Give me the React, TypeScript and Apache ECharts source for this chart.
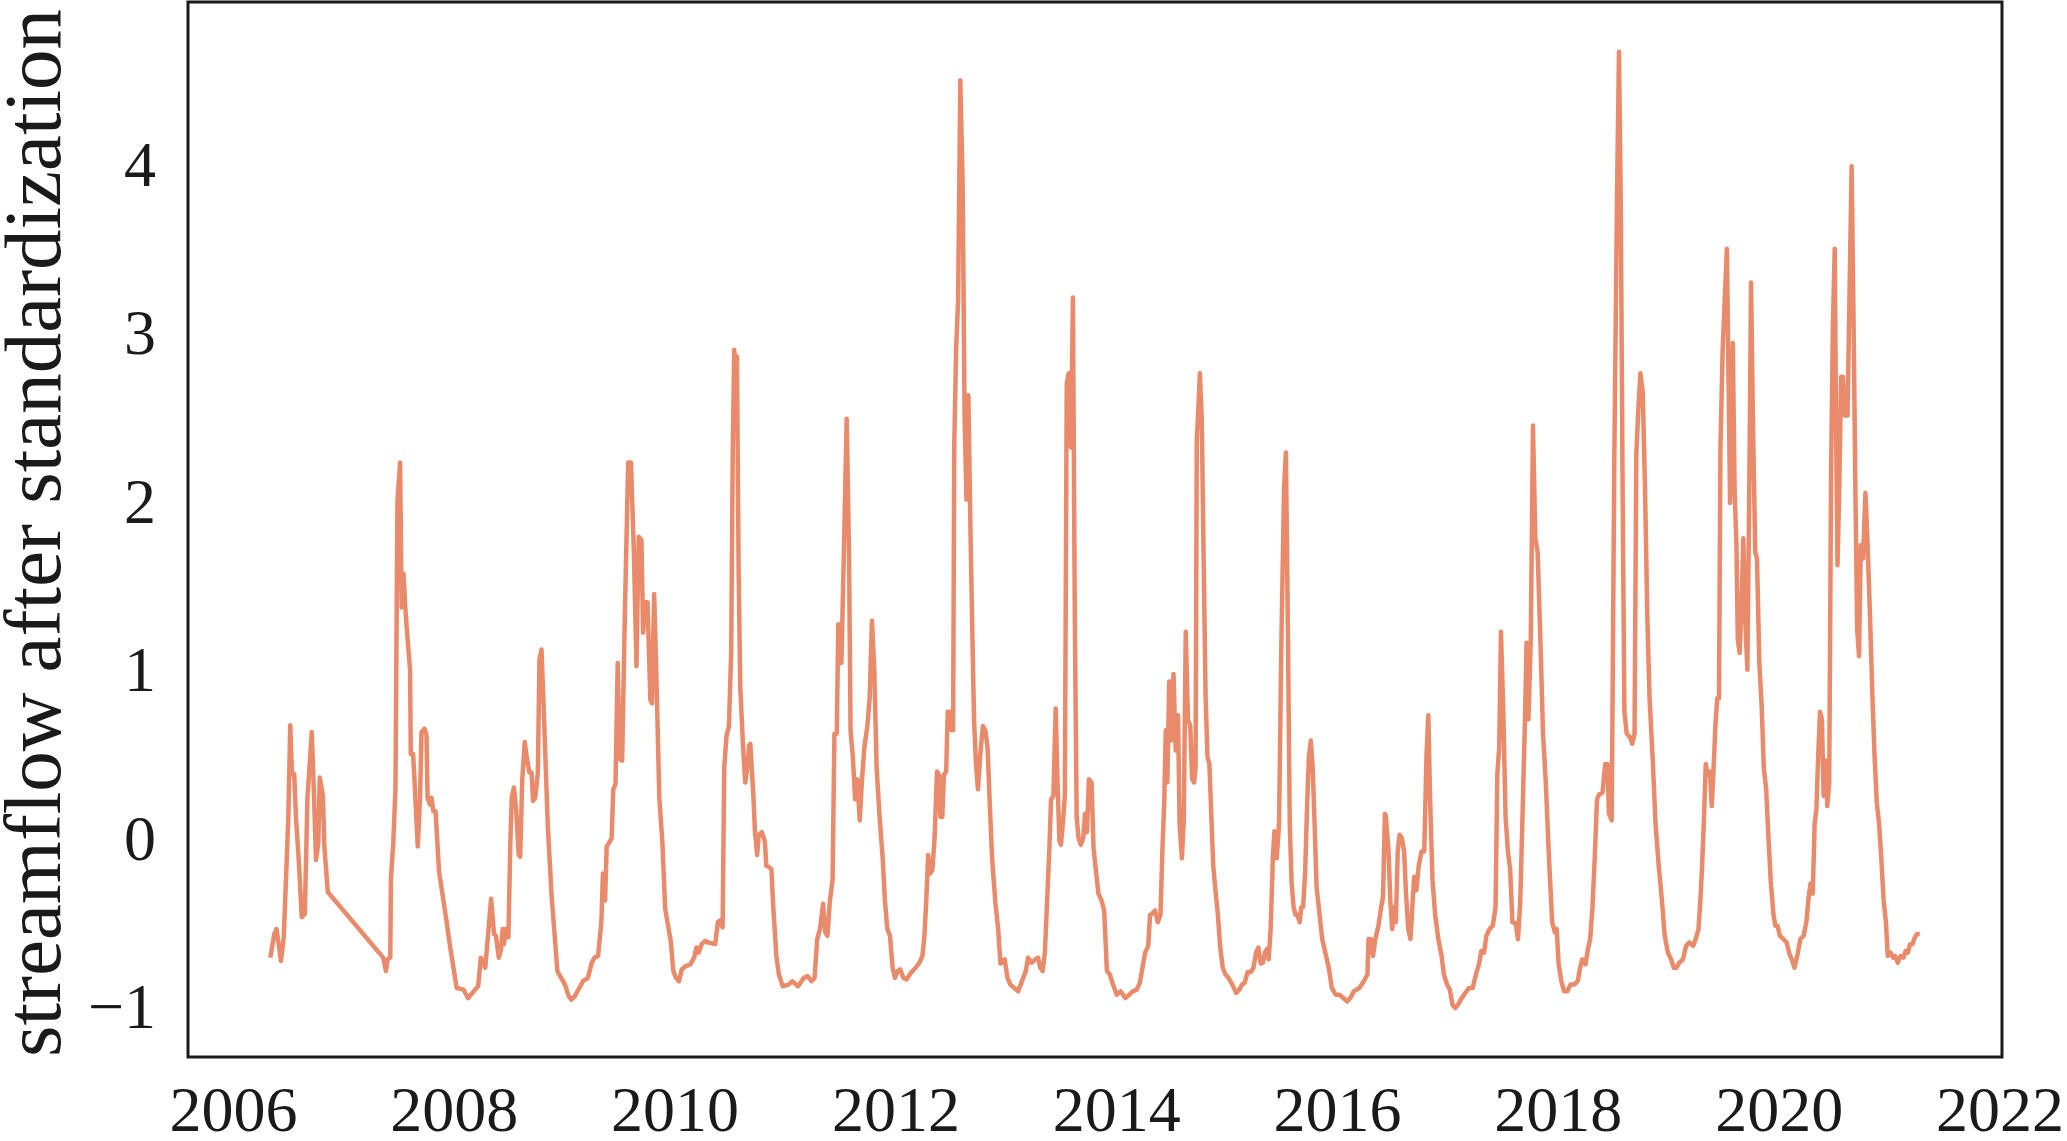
import React, { useEffect, useRef } from "react";
import * as echarts from "echarts";

// decimal year, standardized streamflow
const seg2006to2010: [number, number][] = [
  [2006.334,-0.71],[2006.369,-0.57],[2006.39,-0.54],[2006.43,-0.73],[2006.455,-0.59],[2006.473,-0.29],[2006.497,0.13],[2006.514,0.67],[2006.53,0.38],[2006.55,0.38],[2006.567,0.11],[2006.594,-0.16],[2006.618,-0.47],[2006.646,-0.45],[2006.67,0.24],[2006.709,0.63],[2006.73,0.24],[2006.747,-0.13],[2006.768,-0.03],[2006.781,0.36],[2006.81,0.25],[2006.823,-0.05],[2006.854,-0.32],
  [2007.356,-0.71],[2007.381,-0.79],[2007.395,-0.72],[2007.42,-0.71],[2007.426,-0.24],[2007.447,-0.03],[2007.467,0.29],[2007.485,2.0],[2007.509,2.23],[2007.523,1.37],[2007.54,1.57],[2007.556,1.37],[2007.57,1.24],[2007.599,1.0],[2007.606,0.5],[2007.627,0.5],[2007.641,0.32],[2007.669,-0.05],[2007.69,0.24],[2007.703,0.63],[2007.73,0.65],[2007.748,0.61],[2007.758,0.24],[2007.78,0.2],[2007.793,0.24],[2007.81,0.16],[2007.83,0.16],[2007.862,-0.2],[2007.89,-0.32],[2007.929,-0.49],[2007.963,-0.65],[2007.997,-0.79],
  [2008.022,-0.89],[2008.084,-0.9],[2008.1,-0.92],[2008.126,-0.95],[2008.15,-0.93],[2008.189,-0.9],[2008.216,-0.88],[2008.24,-0.71],[2008.265,-0.74],[2008.28,-0.77],[2008.309,-0.55],[2008.333,-0.36],[2008.36,-0.57],[2008.377,-0.58],[2008.403,-0.71],[2008.424,-0.66],[2008.438,-0.54],[2008.45,-0.63],[2008.466,-0.54],[2008.49,-0.59],[2008.507,-0.04],[2008.52,0.24],[2008.54,0.3],[2008.56,0.17],[2008.583,-0.1],[2008.597,-0.11],[2008.615,0.34],[2008.638,0.57],[2008.658,0.47],[2008.68,0.39],[2008.7,0.39],[2008.713,0.22],[2008.733,0.24],[2008.757,0.39],[2008.771,1.06],[2008.79,1.12],[2008.81,0.76],[2008.847,0.07],[2008.881,-0.34],[2008.934,-0.79],[2008.968,-0.83],
  [2009.002,-0.87],[2009.037,-0.94],[2009.06,-0.96],[2009.09,-0.94],[2009.141,-0.88],[2009.165,-0.85],[2009.21,-0.83],[2009.245,-0.74],[2009.27,-0.71],[2009.302,-0.7],[2009.332,-0.5],[2009.346,-0.21],[2009.366,-0.37],[2009.38,-0.05],[2009.4,-0.03],[2009.425,0.0],[2009.44,0.29],[2009.46,0.32],[2009.48,1.04],[2009.498,0.47],[2009.52,0.46],[2009.546,1.37],[2009.575,2.23],[2009.6,2.23],[2009.626,1.71],[2009.65,1.02],[2009.67,1.79],[2009.695,1.77],[2009.71,1.22],[2009.73,1.4],[2009.75,1.4],[2009.776,0.82],[2009.79,0.8],[2009.81,1.45],[2009.83,0.97],[2009.857,0.24],[2009.885,-0.03],[2009.91,-0.42],[2009.936,-0.52],[2009.96,-0.61],[2009.984,-0.79],
  [2010.008,-0.83],[2010.035,-0.85],[2010.06,-0.78],[2010.096,-0.76],[2010.138,-0.75],[2010.172,-0.71],[2010.193,-0.65],[2010.213,-0.68],[2010.24,-0.63],[2010.275,-0.61],[2010.3,-0.62],[2010.363,-0.63],[2010.387,-0.5],[2010.404,-0.49],[2010.43,-0.53],[2010.445,0.42],[2010.466,0.61],[2010.487,0.66],[2010.508,1.11],[2010.522,2.3],[2010.535,2.9],[2010.548,2.78],[2010.56,2.86],[2010.575,1.6],[2010.59,0.9],[2010.615,0.55],[2010.635,0.33],[2010.655,0.42],[2010.67,0.55],
];

const seg2010to2016: [number, number][] = [
  [2010.681,0.56],[2010.709,0.25],[2010.723,0.04],[2010.743,-0.1],[2010.757,0.02],[2010.785,0.035],[2010.813,-0.02],[2010.826,-0.165],[2010.847,-0.17],[2010.872,-0.185],[2010.889,-0.41],[2010.917,-0.7],[2010.94,-0.81],[2010.975,-0.88],
  [2011.027,-0.87],[2011.062,-0.85],[2011.114,-0.88],[2011.166,-0.83],[2011.2,-0.82],[2011.235,-0.85],[2011.263,-0.83],[2011.287,-0.6],[2011.312,-0.54],[2011.34,-0.39],[2011.36,-0.56],[2011.38,-0.58],[2011.402,-0.37],[2011.426,-0.25],[2011.443,0.62],[2011.464,0.62],[2011.478,1.27],[2011.506,1.04],[2011.526,1.62],[2011.554,2.49],[2011.575,1.7],[2011.589,0.64],[2011.61,0.48],[2011.63,0.23],[2011.651,0.35],[2011.672,0.105],[2011.693,0.35],[2011.714,0.54],[2011.741,0.665],[2011.762,0.83],[2011.783,1.29],[2011.804,1.0],[2011.825,0.42],[2011.852,0.125],[2011.88,-0.12],[2011.9,-0.37],[2011.922,-0.54],[2011.946,-0.58],[2011.97,-0.77],[2011.991,-0.83],
  [2012.015,-0.79],[2012.04,-0.78],[2012.067,-0.83],[2012.095,-0.84],[2012.136,-0.8],[2012.178,-0.77],[2012.213,-0.74],[2012.24,-0.7],[2012.258,-0.58],[2012.275,-0.37],[2012.292,-0.1],[2012.31,-0.21],[2012.33,-0.19],[2012.35,0.0],[2012.372,0.395],[2012.39,0.375],[2012.403,0.125],[2012.42,0.125],[2012.434,0.375],[2012.455,0.395],[2012.469,0.75],[2012.49,0.75],[2012.504,0.64],[2012.518,0.64],[2012.528,2.32],[2012.545,2.9],[2012.563,3.19],[2012.583,4.5],[2012.604,3.9],[2012.622,2.49],[2012.639,2.01],[2012.656,2.63],[2012.674,1.87],[2012.691,1.25],[2012.708,0.69],[2012.725,0.44],[2012.743,0.29],[2012.767,0.52],[2012.788,0.665],[2012.809,0.64],[2012.83,0.54],[2012.847,0.25],[2012.871,-0.12],[2012.899,-0.37],[2012.926,-0.54],[2012.947,-0.745],[2012.985,-0.72],
  [2013.01,-0.83],[2013.037,-0.87],[2013.072,-0.89],[2013.107,-0.91],[2013.141,-0.85],[2013.176,-0.79],[2013.197,-0.71],[2013.228,-0.74],[2013.263,-0.72],[2013.287,-0.71],[2013.308,-0.77],[2013.328,-0.79],[2013.349,-0.68],[2013.367,-0.41],[2013.391,-0.04],[2013.405,0.23],[2013.426,0.25],[2013.447,0.77],[2013.464,0.33],[2013.481,-0.02],[2013.495,-0.04],[2013.516,0.125],[2013.53,0.25],[2013.547,2.7],[2013.564,2.76],[2013.585,2.32],[2013.603,3.21],[2013.62,1.33],[2013.637,0.125],[2013.654,0.0],[2013.675,-0.04],[2013.696,0.0],[2013.713,0.145],[2013.73,0.035],[2013.748,0.35],[2013.772,0.33],[2013.79,-0.06],[2013.81,-0.185],[2013.834,-0.33],[2013.862,-0.37],[2013.886,-0.43],[2013.911,-0.79],[2013.938,-0.81],[2013.966,-0.87],
  [2014.0,-0.93],[2014.035,-0.91],[2014.077,-0.95],[2014.112,-0.93],[2014.146,-0.91],[2014.181,-0.9],[2014.209,-0.86],[2014.233,-0.77],[2014.257,-0.68],[2014.285,-0.64],[2014.302,-0.455],[2014.32,-0.45],[2014.347,-0.43],[2014.372,-0.5],[2014.396,-0.455],[2014.413,-0.08],[2014.43,0.21],[2014.444,0.64],[2014.458,0.33],[2014.475,0.93],[2014.493,0.58],[2014.514,0.975],[2014.534,0.52],[2014.555,0.73],[2014.569,0.085],[2014.59,-0.12],[2014.607,0.105],[2014.625,1.225],[2014.645,0.705],[2014.666,0.665],[2014.683,0.35],[2014.7,0.33],[2014.714,0.415],[2014.725,2.365],[2014.735,2.49],[2014.753,2.76],[2014.77,2.49],[2014.787,1.66],[2014.805,0.83],[2014.822,0.48],[2014.839,0.44],[2014.857,0.125],[2014.874,-0.165],[2014.891,-0.29],[2014.916,-0.455],[2014.936,-0.64],[2014.96,-0.77],[2014.985,-0.81],
  [2015.012,-0.83],[2015.047,-0.87],[2015.082,-0.92],[2015.11,-0.9],[2015.134,-0.87],[2015.158,-0.86],[2015.186,-0.795],[2015.214,-0.795],[2015.238,-0.77],[2015.262,-0.68],[2015.283,-0.65],[2015.304,-0.745],[2015.324,-0.74],[2015.342,-0.68],[2015.359,-0.66],[2015.376,-0.72],[2015.394,-0.54],[2015.415,-0.1],[2015.428,0.04],[2015.449,-0.12],[2015.47,0.085],[2015.49,1.12],[2015.515,2.07],[2015.532,2.29],[2015.55,1.245],[2015.567,0.085],[2015.584,-0.27],[2015.602,-0.41],[2015.619,-0.455],[2015.636,-0.455],[2015.657,-0.5],[2015.671,-0.41],[2015.688,-0.41],[2015.706,-0.21],[2015.723,0.17],[2015.74,0.48],[2015.758,0.58],[2015.775,0.415],[2015.792,0.085],[2015.81,-0.29],[2015.837,-0.455],[2015.861,-0.6],[2015.896,-0.7],[2015.92,-0.77],[2015.948,-0.89],[2015.983,-0.93],
  [2016.017,-0.93],[2016.052,-0.95],[2016.087,-0.97],
];

const seg2016to2021: [number, number][] = [
  [2016.114,-0.95],[2016.147,-0.91],[2016.197,-0.89],[2016.238,-0.85],[2016.271,-0.81],[2016.28,-0.6],[2016.3,-0.6],[2016.321,-0.7],[2016.342,-0.6],[2016.37,-0.52],[2016.395,-0.41],[2016.412,-0.35],[2016.429,0.145],[2016.437,0.13],[2016.462,-0.08],[2016.478,-0.37],[2016.495,-0.54],[2016.511,-0.41],[2016.528,-0.5],[2016.545,-0.08],[2016.561,0.02],[2016.582,0.0],[2016.603,-0.08],[2016.62,-0.33],[2016.64,-0.54],[2016.66,-0.6],[2016.677,-0.41],[2016.694,-0.23],[2016.714,-0.31],[2016.735,-0.165],[2016.76,-0.08],[2016.785,-0.08],[2016.806,0.5],[2016.822,0.73],[2016.839,0.21],[2016.86,-0.25],[2016.884,-0.455],[2016.913,-0.6],[2016.942,-0.7],[2016.963,-0.81],[2016.992,-0.87],
  [2017.017,-0.9],[2017.041,-0.99],[2017.066,-1.01],[2017.091,-0.99],[2017.124,-0.95],[2017.157,-0.92],[2017.19,-0.89],[2017.224,-0.89],[2017.253,-0.81],[2017.282,-0.745],[2017.302,-0.67],[2017.327,-0.68],[2017.348,-0.58],[2017.377,-0.54],[2017.406,-0.52],[2017.431,-0.41],[2017.447,0.375],[2017.464,0.54],[2017.48,1.225],[2017.501,0.75],[2017.522,0.125],[2017.543,-0.08],[2017.563,-0.185],[2017.584,-0.5],[2017.613,-0.505],[2017.634,-0.6],[2017.654,-0.39],[2017.675,0.125],[2017.696,0.665],[2017.712,1.16],[2017.729,0.705],[2017.75,1.18],[2017.77,2.45],[2017.791,1.78],[2017.812,1.7],[2017.836,1.2],[2017.861,0.62],[2017.886,0.33],[2017.915,-0.12],[2017.944,-0.5],[2017.969,-0.56],[2017.985,-0.54],
  [2018.002,-0.745],[2018.027,-0.85],[2018.052,-0.91],[2018.081,-0.91],[2018.11,-0.87],[2018.143,-0.87],[2018.176,-0.85],[2018.197,-0.77],[2018.217,-0.72],[2018.246,-0.75],[2018.267,-0.66],[2018.288,-0.6],[2018.309,-0.41],[2018.329,-0.12],[2018.35,0.23],[2018.371,0.26],[2018.4,0.27],[2018.424,0.44],[2018.445,0.44],[2018.458,0.145],[2018.483,0.105],[2018.507,2.28],[2018.532,3.86],[2018.549,4.67],[2018.565,3.77],[2018.582,2.07],[2018.598,0.75],[2018.619,0.62],[2018.648,0.6],[2018.669,0.56],[2018.69,0.62],[2018.706,2.28],[2018.723,2.53],[2018.743,2.76],[2018.764,2.65],[2018.785,2.07],[2018.805,1.33],[2018.826,0.83],[2018.855,0.46],[2018.88,0.085],[2018.909,-0.165],[2018.938,-0.37],[2018.963,-0.58],[2018.992,-0.68],
  [2019.021,-0.72],[2019.046,-0.77],[2019.07,-0.77],[2019.095,-0.74],[2019.128,-0.72],[2019.157,-0.64],[2019.186,-0.62],[2019.22,-0.64],[2019.244,-0.6],[2019.269,-0.54],[2019.286,-0.37],[2019.302,-0.165],[2019.319,0.125],[2019.335,0.44],[2019.352,0.375],[2019.373,0.395],[2019.389,0.19],[2019.406,0.415],[2019.422,0.665],[2019.439,0.83],[2019.455,0.83],[2019.468,2.32],[2019.488,2.9],[2019.509,3.23],[2019.526,3.5],[2019.542,2.7],[2019.555,1.99],[2019.567,2.53],[2019.58,2.94],[2019.596,2.07],[2019.613,1.74],[2019.625,1.18],[2019.642,1.1],[2019.658,1.37],[2019.675,1.78],[2019.691,1.33],[2019.712,1.0],[2019.729,2.07],[2019.745,3.3],[2019.762,2.49],[2019.783,1.7],[2019.799,1.66],[2019.82,1.04],[2019.841,0.79],[2019.861,0.415],[2019.882,0.29],[2019.903,0.0],[2019.923,-0.25],[2019.948,-0.455],[2019.965,-0.52],[2019.985,-0.52],
  [2020.006,-0.58],[2020.039,-0.6],[2020.068,-0.62],[2020.089,-0.68],[2020.114,-0.72],[2020.139,-0.77],[2020.163,-0.7],[2020.192,-0.6],[2020.221,-0.58],[2020.246,-0.5],[2020.267,-0.35],[2020.284,-0.27],[2020.304,-0.33],[2020.321,0.085],[2020.337,0.17],[2020.354,0.5],[2020.37,0.75],[2020.387,0.705],[2020.403,0.25],[2020.42,0.46],[2020.436,0.19],[2020.453,0.33],[2020.47,2.16],[2020.486,3.03],[2020.503,3.5],[2020.515,2.49],[2020.528,1.62],[2020.544,2.07],[2020.561,2.74],[2020.577,2.74],[2020.594,2.51],[2020.619,2.51],[2020.636,3.19],[2020.656,3.99],[2020.673,3.11],[2020.69,2.07],[2020.706,1.245],[2020.723,1.08],[2020.739,1.74],[2020.76,1.66],[2020.781,2.05],[2020.801,1.74],[2020.822,1.33],[2020.843,0.87],[2020.863,0.5],[2020.884,0.21],[2020.905,0.085],[2020.925,-0.12],[2020.946,-0.37],[2020.967,-0.5],[2020.983,-0.7],
  [2021.008,-0.68],[2021.033,-0.71],[2021.05,-0.7],[2021.074,-0.74],[2021.099,-0.7],[2021.124,-0.71],[2021.145,-0.67],[2021.165,-0.68],[2021.186,-0.63],[2021.207,-0.63],[2021.228,-0.59],[2021.248,-0.57],[2021.273,-0.57],
];

const xTickYears = [2006, 2008, 2010, 2012, 2014, 2016, 2018, 2020, 2022];
const yTickValues = [-1, 0, 1, 2, 3, 4];
const yTitle = "streamflow after standardization";

const FONT = "'Liberation Serif', 'Times New Roman', serif";
const INK = "#1a1a1a";

export default function App() {
  const ref = useRef<HTMLDivElement>(null);

  useEffect(() => {
    document.body.style.margin = "0";
    document.body.style.overflow = "hidden";
    if (!ref.current) return;
    const chart = echarts.init(ref.current, undefined, { renderer: "svg" });
    const series = [...seg2006to2010, ...seg2010to2016, ...seg2016to2021];
    chart.setOption({
      animation: false,
      backgroundColor: "#ffffff",
      grid: {
        left: 188,
        right: 65,
        top: 2,
        bottom: 79,
        show: true,
        borderColor: INK,
        borderWidth: 3,
        backgroundColor: "transparent",
      },
      xAxis: {
        type: "value",
        min: 2005.588,
        max: 2022.018,
        axisLine: { show: false },
        axisTick: { show: false },
        splitLine: { show: false },
        axisLabel: {
          customValues: xTickYears,
          fontFamily: FONT,
          fontSize: 64,
          color: INK,
          margin: 20,
          formatter: (v: number) => String(Math.round(v)),
        },
      },
      yAxis: {
        type: "value",
        min: -1.3,
        max: 4.965,
        axisLine: { show: false },
        axisTick: { show: false },
        splitLine: { show: false },
        axisLabel: {
          customValues: yTickValues,
          fontFamily: FONT,
          fontSize: 64,
          color: INK,
          margin: 32,
          formatter: (v: number) => String(Math.round(v)).replace("-", "\u2212"),
        },
      },
      graphic: [
        {
          type: "text",
          x: 33,
          y: 533,
          rotation: Math.PI / 2,
          silent: true,
          style: {
            text: yTitle,
            fontFamily: FONT,
            fontSize: 81,
            fill: INK,
            align: "center",
            verticalAlign: "middle",
          },
        },
      ],
      series: [
        {
          type: "line",
          data: series,
          showSymbol: false,
          symbol: "none",
          clip: true,
          lineStyle: { color: "#E98B6A", width: 4.5, join: "round" },
        },
      ],
    });
    return () => chart.dispose();
  }, []);

  return <div ref={ref} style={{ width: 2067, height: 1141 }} />;
}
